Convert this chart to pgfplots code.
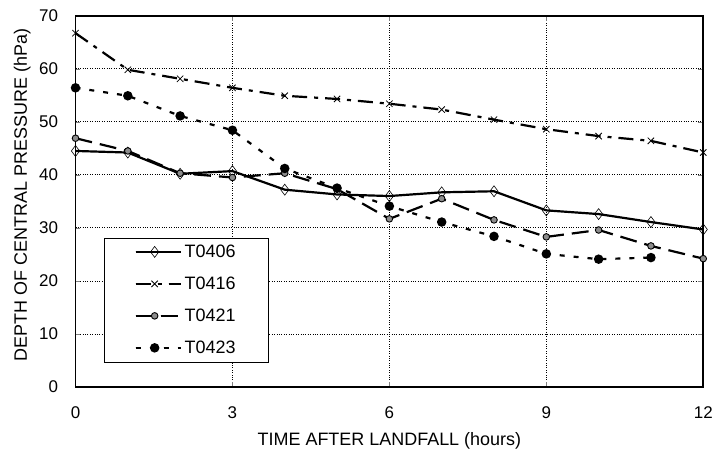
\documentclass[border=0pt]{standalone}
\usepackage{fontspec}
\setmainfont{Liberation Sans}
\usepackage{pgfplots}
\pgfplotsset{compat=1.18}

\begin{document}
\begin{tikzpicture}
\begin{axis}[name=ax, scale only axis, width=629.3pt, height=372.3pt,
  xmin=0, xmax=12, ymin=0, ymax=70,
  xtick={0,3,6,9,12}, ytick={0,10,...,70},
  /pgf/number format/assume math mode=true,
  tick label style={font=\fontsize{17}{19}\selectfont},
  xticklabel shift=16pt, yticklabel shift=14pt,
  tick align=inside, major tick length=5pt,
  axis line style={line width=1.8pt},
  ymajorgrids, xmajorgrids,
  grid style={dotted, line width=0.8pt, black},
  xlabel={TIME AFTER LANDFALL (hours)},
  ylabel={DEPTH OF CENTRAL PRESSURE (hPa)},
  label style={font=\fontsize{18}{20}\selectfont},
  xlabel style={at={(axis description cs:0.5,-0.158)}, anchor=base},
  ylabel style={at={(axis description cs:-0.0774,0.517)}, anchor=base, rotate=0},
  legend style={at={(axis description cs:0.046,0.067)}, anchor=south west,
    draw=black, line width=0.6pt, fill=white, font=\fontsize{18}{20}\selectfont,
    inner xsep=30pt, inner ysep=4pt, row sep=12pt,
    nodes={inner sep=3pt}},
  legend cell align=left,
  legend image code/.code={\path (0pt,0pt) -- (45pt,0pt);
    \draw[mark repeat=2, mark phase=2, #1] plot coordinates {(0pt,0pt) (19pt,0pt) (38pt,0pt)};},
  ]
% T0406
\addplot[black, line width=2.2pt, mark=diamond, mark size=5.5pt,
  mark options={solid, fill=white, line width=0.6pt}] coordinates {
  (0,44.5) (1,44.2) (2,40.2) (3,40.7) (4,37.2) (5,36.3) (6,36.0)
  (7,36.7) (8,36.9) (9,33.3) (10,32.6) (11,31.1) (12,29.7)};
% T0416
\addplot[black, line width=2.2pt, dash pattern=on 15pt off 7pt on 4pt off 7pt,
  mark=x, mark size=4.5pt, mark options={solid, line width=0.8pt}] coordinates {
  (0,66.7) (1,59.8) (2,58.1) (3,56.4) (4,54.9) (5,54.3) (6,53.4)
  (7,52.3) (8,50.4) (9,48.6) (10,47.3) (11,46.4) (12,44.2)};
% T0421
\addplot[black, line width=2.2pt, dash pattern=on 17pt off 8pt,
  mark=*, mark size=3.3pt, mark options={solid, fill=black!45, line width=0.9pt}] coordinates {
  (0,46.9) (1,44.5) (2,40.3) (3,39.5) (4,40.3) (5,37.3) (6,31.7)
  (7,35.5) (8,31.5) (9,28.3) (10,29.6) (11,26.6) (12,24.2)};
% T0423
\addplot[black, line width=2.2pt, dash pattern=on 5pt off 9pt,
  mark=*, mark size=3.6pt, mark options={solid, fill=black}] coordinates {
  (0,56.4) (1,54.9) (2,51.1) (3,48.4) (4,41.2) (5,37.5) (6,34.1)
  (7,31.1) (8,28.4) (9,25.1) (10,24.1) (11,24.4)};
\legend{T0406, T0416, T0421, T0423}
\end{axis}
\path ([xshift=-75.7pt,yshift=-66pt]ax.south west) rectangle ([xshift=11pt,yshift=15.7pt]ax.north east);
\end{tikzpicture}
\end{document}
